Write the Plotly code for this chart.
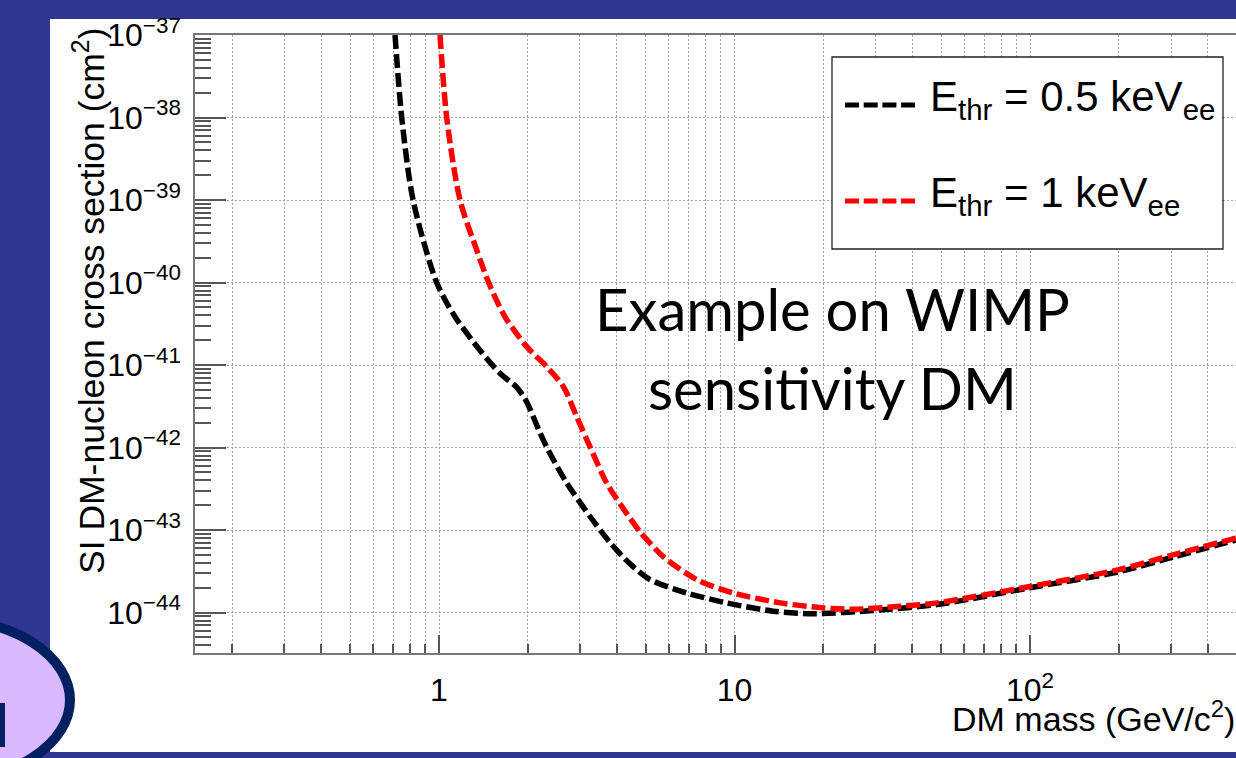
import plotly.graph_objects as go

# ---- data ----
mass_05 = [0.710, 0.748, 0.817, 0.982, 1.133, 1.376, 1.608, 1.833, 1.955, 2.03, 2.197, 2.343,
           2.705, 3.244, 3.79, 4.40, 5.18, 6.89, 9.41, 13.5, 18.4, 29.4, 48.4, 100, 200, 305, 498]
sigma_05 = [1.0e-37, 1.0e-38, 1.0e-39, 1.0e-40, 3.85e-41, 1.51e-41, 7.94e-42, 5.37e-42, 3.89e-42,
            2.95e-42, 1.51e-42, 9.33e-43, 3.72e-43, 1.46e-43, 7.08e-44, 3.98e-44, 2.51e-44, 1.73e-44,
            1.31e-44, 1.04e-44, 9.70e-45, 1.06e-44, 1.25e-44, 2.00e-44, 3.13e-44, 4.71e-44, 7.59e-44]

mass_1 = [1.008, 1.062, 1.178, 1.342, 1.476, 1.672, 1.981, 2.315, 2.634, 2.924, 3.244, 3.694,
          4.32, 4.79, 5.73, 7.45, 9.89, 14.3, 19.9, 25.6, 36.3, 48.4, 100, 200, 305, 498]
sigma_1 = [1.0e-37, 1.0e-38, 1.0e-39, 2.47e-40, 9.77e-41, 3.85e-41, 1.67e-41, 9.55e-42, 5.50e-42,
           2.37e-42, 1.02e-42, 3.72e-43, 1.58e-43, 9.55e-44, 4.79e-44, 2.51e-44, 1.73e-44, 1.31e-44,
           1.14e-44, 1.10e-44, 1.19e-44, 1.31e-44, 2.07e-44, 3.31e-44, 5.01e-44, 8.00e-44]

legend_names = ["E<sub>thr</sub> = 0.5 keV<sub>ee</sub>", "E<sub>thr</sub> = 1 keV<sub>ee</sub>"]
x_tick_vals = [1, 10, 100]
x_tick_text = ["1", "10", "10<sup>2</sup>"]
y_tick_vals = [1e-44, 1e-43, 1e-42, 1e-41, 1e-40, 1e-39, 1e-38, 1e-37]
y_tick_text = ["10<sup>\u221244</sup>", "10<sup>\u221243</sup>", "10<sup>\u221242</sup>",
               "10<sup>\u221241</sup>", "10<sup>\u221240</sup>", "10<sup>\u221239</sup>",
               "10<sup>\u221238</sup>", "10<sup>\u221237</sup>"]
x_minor = [0.2, 0.3, 0.4, 0.5, 0.6, 0.7, 0.8, 0.9,
           2, 3, 4, 5, 6, 7, 8, 9,
           20, 30, 40, 50, 60, 70, 80, 90,
           200, 300, 400]
y_minor = [m * 10.0 ** e for e in range(-45, -37) for m in range(2, 10)]
y_minor = [v for v in y_minor if 3.3e-45 < v < 1e-37]

# ---- geometry helpers (pixel -> paper) ----
W, H = 1236, 758
L, R, T, B = 195, 0, 35, 105
PW, PH = W - L - R, H - T - B


def px(x):
    return (x - L) / PW


def py(y):
    return (H - B - y) / PH


FONT = "Liberation Sans, Arial, Helvetica, sans-serif"
BLUE = "#313691"

fig = go.Figure()
fig.add_trace(go.Scatter(x=mass_05, y=sigma_05, mode="lines", name=legend_names[0],
                         line=dict(color="black", width=5.5, dash="14px,5px", shape="spline",
                                   smoothing=0.8), showlegend=False))
fig.add_trace(go.Scatter(x=mass_1, y=sigma_1, mode="lines", name=legend_names[1],
                         line=dict(color="#ff0000", width=5.5, dash="14px,5px", shape="spline",
                                   smoothing=0.8), showlegend=False))

shapes = [
    # white slide panel
    dict(type="rect", xref="paper", yref="paper", x0=px(50), x1=px(1240), y0=py(752), y1=py(19),
         fillcolor="white", line=dict(width=0), layer="below"),
    # decorative ellipse at bottom-left
    dict(type="circle", xref="paper", yref="paper", x0=px(-190), x1=px(70), y0=py(782), y1=py(618),
         fillcolor="#D9B8FE", line=dict(color="#002060", width=10), layer="below"),
    dict(type="rect", xref="paper", yref="paper", x0=px(-2), x1=px(5), y0=py(747), y1=py(703),
         fillcolor="#002060", line=dict(width=0), layer="below"),
    # legend box
    dict(type="rect", xref="paper", yref="paper", x0=px(832), x1=px(1223), y0=py(249), y1=py(57),
         fillcolor="white", line=dict(color="#222", width=1.3), layer="above"),
    dict(type="line", xref="paper", yref="paper", x0=px(845), x1=px(915), y0=py(105), y1=py(105),
         line=dict(color="black", width=5, dash="14px,4.7px"), layer="above"),
    dict(type="line", xref="paper", yref="paper", x0=px(845), x1=px(915), y0=py(201), y1=py(201),
         line=dict(color="#ff0000", width=5, dash="14px,4.7px"), layer="above"),
]

annotations = [
    dict(text=legend_names[0], xref="paper", yref="paper", x=px(928), y=py(99),
         xanchor="left", yanchor="middle", showarrow=False, font=dict(family=FONT, size=42, color="black")),
    dict(text=legend_names[1], xref="paper", yref="paper", x=px(928), y=py(195),
         xanchor="left", yanchor="middle", showarrow=False, font=dict(family=FONT, size=42, color="black")),
    dict(text="Example on WIMP", xref="paper", yref="paper", x=px(833), y=py(309),
         xanchor="center", yanchor="middle", showarrow=False,
         font=dict(family="Lato, Carlito, Calibri, sans-serif", size=58, color="black")),
    dict(text="sensitivity DM", xref="paper", yref="paper", x=px(832), y=py(387),
         xanchor="center", yanchor="middle", showarrow=False,
         font=dict(family="Lato, Carlito, Calibri, sans-serif", size=58, color="black")),
    dict(text="DM mass (GeV/c<sup>2</sup>)", xref="paper", yref="paper", x=px(1237), y=py(716),
         xanchor="right", yanchor="middle", showarrow=False, font=dict(family=FONT, size=34, color="black")),
    dict(text="SI DM-nucleon cross section (cm<sup>2</sup>)", xref="paper", yref="paper",
         x=px(89), y=py(26), xanchor="center", yanchor="top", textangle=-90, showarrow=False,
         font=dict(family=FONT, size=35.5, color="black")),
]

fig.update_layout(
    width=W, height=H,
    margin=dict(l=L, r=R, t=T, b=B, pad=0),
    paper_bgcolor=BLUE, plot_bgcolor="white",
    shapes=shapes, annotations=annotations,
    showlegend=False,
    font=dict(family=FONT, color="black"),
)

fig.update_xaxes(
    type="log", range=[-0.8257, 2.6971],
    tickmode="array", tickvals=x_tick_vals, ticktext=x_tick_text,
    ticks="inside", ticklen=18, tickwidth=1.5, tickcolor="#555",
    tickfont=dict(family=FONT, size=32, color="black"), ticklabelstandoff=8,
    showline=True, linecolor="#777", linewidth=1.5, mirror=True,
    showgrid=True, gridcolor="#a0a0a0", gridwidth=1, griddash="2px,2px",
    minor=dict(tickmode="array", tickvals=x_minor, ticks="inside", ticklen=9, tickwidth=1.5,
               tickcolor="#555", showgrid=True, gridcolor="#a0a0a0", gridwidth=1, griddash="2px,2px"),
    zeroline=False,
)
fig.update_yaxes(
    type="log", range=[-44.49, -37],
    tickmode="array", tickvals=y_tick_vals, ticktext=y_tick_text,
    ticks="inside", ticklen=31, tickwidth=1.5, tickcolor="#555",
    tickfont=dict(family=FONT, size=32, color="black"), ticklabelstandoff=6,
    showline=True, linecolor="#777", linewidth=1.5,
    showgrid=True, gridcolor="#a0a0a0", gridwidth=1, griddash="2px,2px",
    minor=dict(tickmode="array", tickvals=y_minor, ticks="inside", ticklen=16, tickwidth=1.5,
               tickcolor="#555", showgrid=False),
    zeroline=False,
)

fig.write_html("out.html")
